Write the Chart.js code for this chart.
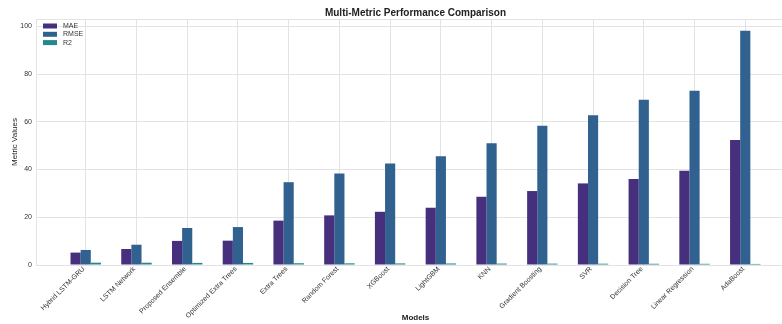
<!DOCTYPE html>
<html>
<head>
<meta charset="utf-8">
<title>Multi-Metric Performance Comparison</title>
<script src="https://cdn.jsdelivr.net/npm/chart.js"></script>
<style>
    html, body { margin: 0; padding: 0; background: #fff; overflow: hidden; }
    .wrap { width: 800px; height: 324px; }
</style>
</head>
<body>
<div class="wrap"><canvas id="chart" width="800" height="324"></canvas></div>
<script>
const models = ['Hybrid LSTM-GRU', 'LSTM Network', 'Proposed Ensemble', 'Optimized Extra Trees',
    'Extra Trees', 'Random Forest', 'XGBoost', 'LightGBM', 'KNN', 'Gradient Boosting',
    'SVR', 'Decision Tree', 'Linear Regression', 'AdaBoost'];
const mae = [5.2, 6.7, 10.1, 10.2, 18.6, 20.8, 22.3, 24.0, 28.6, 31.0, 34.2, 36.0, 39.5, 52.4];
const rmse = [6.3, 8.5, 15.5, 15.9, 34.7, 38.3, 42.5, 45.6, 51.0, 58.4, 62.8, 69.3, 73.0, 98.2];
const r2 = [0.97, 0.95, 0.88, 0.87, 0.74, 0.70, 0.66, 0.64, 0.60, 0.57, 0.55, 0.52, 0.50, 0.45];
const yTicks = [0, 20, 40, 60, 80, 100];

const font = "'Liberation Sans', Arial, sans-serif";
const gridColor = '#e3e3e3';

const toPoints = arr => arr.map((v, i) => ({ x: i, y: v }));

// matplotlib-style frame and legend inside the axes
const framePlugin = {
    id: 'frame',
    afterDatasetsDraw(chart) {
        const { ctx, chartArea: a } = chart;
        ctx.save();
        ctx.strokeStyle = gridColor;
        ctx.lineWidth = 1;
        ctx.strokeRect(a.left + 0.5, a.top + 0.5, a.right - a.left, a.bottom - a.top);

        ctx.font = '7px ' + font;
        ctx.textBaseline = 'middle';
        ctx.textAlign = 'left';
        chart.data.datasets.forEach((ds, i) => {
            const y = a.top + 7 + i * 8.3;
            ctx.fillStyle = ds.backgroundColor;
            ctx.fillRect(a.left + 7, y - 2.5, 14, 5);
            ctx.fillStyle = '#333';
            ctx.fillText(ds.label, a.left + 27, y);
        });
        ctx.restore();
    }
};

new Chart(document.getElementById('chart'), {
    type: 'bar',
    data: {
        datasets: [
            { label: 'MAE', data: toPoints(mae), backgroundColor: '#46307e' },
            { label: 'RMSE', data: toPoints(rmse), backgroundColor: '#30618f' },
            { label: 'R2', data: toPoints(r2), backgroundColor: '#23878d' }
        ]
    },
    options: {
        responsive: false,
        animation: false,
        devicePixelRatio: 1,
        layout: { padding: { left: 0, right: 5, top: 0, bottom: 0 } },
        datasets: { bar: { categoryPercentage: 0.6, barPercentage: 1.0, borderWidth: 0 } },
        plugins: {
            legend: { display: false },
            tooltip: { enabled: false },
            title: {
                display: true,
                fullSize: false,
                text: 'Multi-Metric Performance Comparison',
                color: '#222',
                font: { family: font, size: 10, weight: 'bold' },
                padding: { top: 7, bottom: 0 }
            }
        },
        scales: {
            x: {
                type: 'linear',
                min: -0.98,
                max: 13.98,
                offset: false,
                grid: { color: gridColor, offset: false, drawTicks: false },
                border: { color: gridColor },
                afterBuildTicks: axis => { axis.ticks = models.map((_, i) => ({ value: i })); },
                afterFit: scale => { scale.height = 59; },
                ticks: {
                    autoSkip: false,
                    minRotation: 45,
                    maxRotation: 45,
                    padding: 0,
                    labelOffset: -2,
                    color: '#333',
                    font: { family: font, size: 7 },
                    callback: v => models[v]
                },
                title: {
                    display: true,
                    text: 'Models',
                    color: '#222',
                    font: { family: font, size: 8, weight: 'bold' },
                    padding: { top: 0, bottom: 1.2 }
                }
            },
            y: {
                min: 0,
                max: 103.1,
                grid: { color: gridColor, drawTicks: false },
                border: { color: gridColor },
                afterBuildTicks: axis => { axis.ticks = yTicks.map(v => ({ value: v })); },
                afterFit: scale => { scale.width = 36; },
                ticks: {
                    padding: 4,
                    color: '#333',
                    font: { family: font, size: 7 }
                },
                title: {
                    display: true,
                    text: 'Metric Values',
                    color: '#222',
                    font: { family: font, size: 8 },
                    padding: { top: 10, bottom: 0 }
                }
            }
        }
    },
    plugins: [framePlugin]
});
</script>
</body>
</html>
